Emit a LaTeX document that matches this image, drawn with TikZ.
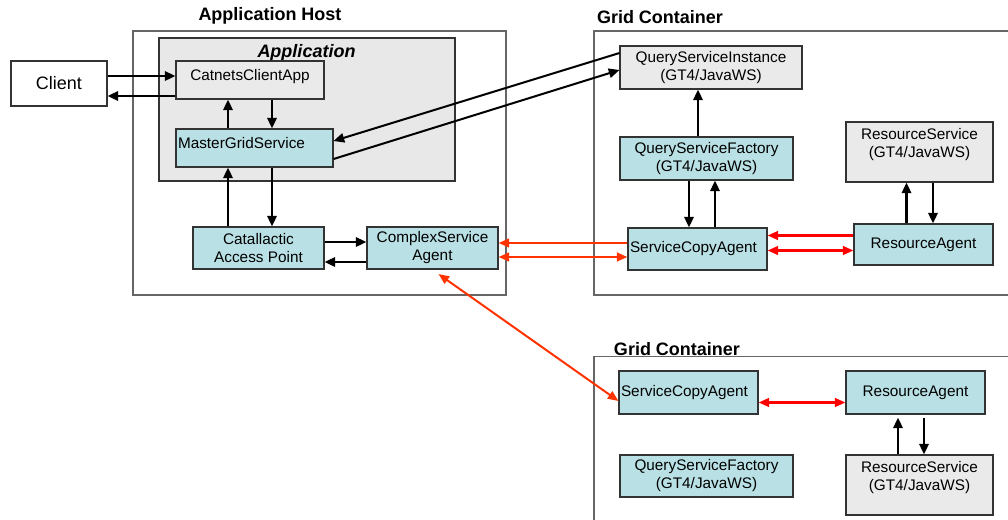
\documentclass[tikz,border=0pt]{standalone}
\usepackage{fontspec}
\setmainfont{Liberation Sans}
\usetikzlibrary{arrows.meta, calc}
\definecolor{boxcyan}{RGB}{185,224,228}
\definecolor{boxgrey}{RGB}{234,234,234}
\definecolor{appgrey}{RGB}{232,232,232}
\definecolor{linkorange}{RGB}{255,51,0}
\definecolor{linkred}{RGB}{255,0,0}

\begin{document}
\begin{tikzpicture}
	[x=0.75pt, y=-0.75pt,
	container/.style={draw=black!60, line width=0.9pt, inner sep=0pt},
	component/.style={draw=black!80, line width=0.8pt, inner sep=1.5pt, align=center, font=\fontsize{11.5}{13.5}\selectfont},
	service/.style={component, fill=boxcyan},
	globus/.style={component, fill=boxgrey},
	title/.style={font=\fontsize{13.5}{16}\selectfont\bfseries},
	call/.style={-{Triangle[length=8pt, width=7pt]}, line width=1.8pt},
	offer/.style={-{Triangle[length=8pt, width=6.5pt]}, line width=1.8pt, draw=linkorange, color=linkorange},
	offers/.style={offer, {Triangle[length=8pt, width=6.5pt]}-{Triangle[length=8pt, width=6.5pt]}},
	bid/.style={offer, draw=linkred, color=linkred},
	bids/.style={offers, draw=linkred, color=linkred}]
	\useasboundingbox (0,0) rectangle (1008,519);
	
	% hosts and containers
	\node[container, minimum width=279.75pt, minimum height=198pt] (host) at (319.5,163) {};
	\node[container, draw=black!80, fill=appgrey, minimum width=222pt, minimum height=107.25pt] (app) at (307,109.5) {};
	\node[container, minimum width=315pt, minimum height=198pt] (gridA) at (804,163) {};
	\node[container, minimum width=315pt, minimum height=200pt] (gridB) at (804,490) {};
	
	\node[title] (hosttitle) at (270,16) {Application Host};
	\node[title, font=\fontsize{13.5}{16}\selectfont\bfseries\itshape] (apptitle) at (306.5,53) {Application};
	\node[title] (gridtitleA) at (660,17) {Grid Container};
	\node[title] (gridtitleB) at (677,349) {Grid Container};
	
	% components
	\node[component, font=\fontsize{13.5}{16}\selectfont, minimum width=72pt, minimum height=33.75pt] (client) at (59,83.5) {Client};
	\node[globus, text depth=8pt, minimum width=111pt, minimum height=28.5pt] (cca) at (250,80) {CatnetsClientApp};
	\node[service, text width=114.75pt, align=left, text depth=8pt, minimum height=28.5pt] (mgs) at (254.5,148) {MasterGridService};
	\node[service, minimum width=98.25pt, minimum height=31.5pt] (cap) at (258.5,248) {Catallactic\\Access Point};
	\node[service, minimum width=98.25pt, minimum height=31.5pt] (csa) at (432.5,248) {ComplexService\\Agent};
	
	\node[globus, minimum width=136.5pt, minimum height=32.25pt] (qsi) at (711,67.5) {QueryServiceInstance\\(GT4/JavaWS)};
	\node[service, minimum width=129.75pt, minimum height=32.25pt] (qsf) at (706.5,158.5) {QueryServiceFactory\\(GT4/JavaWS)};
	\node[globus, text depth=14pt, minimum width=110.25pt, minimum height=45pt] (rs) at (919.5,152) {ResourceService\\(GT4/JavaWS)};
	\node[service, text width=101.25pt, align=left, minimum height=31.5pt] (sca) at (697.5,249) {ServiceCopyAgent};
	\node[service, minimum width=104.25pt, minimum height=30.75pt] (ra) at (923.5,244.5) {ResourceAgent};
	
	\node[service, text width=101.25pt, align=left, minimum height=32.25pt] (scaB) at (688.5,392.5) {ServiceCopyAgent};
	\node[service, minimum width=104.25pt, minimum height=32.25pt] (raB) at (915.5,392.5) {ResourceAgent};
	\node[service, minimum width=129.75pt, minimum height=31.5pt] (qsfB) at (706.5,476) {QueryServiceFactory\\(GT4/JavaWS)};
	\node[globus, text depth=14pt, minimum width=110.25pt, minimum height=45pt] (rsB) at (919.5,485) {ResourceService\\(GT4/JavaWS)};
	
	% application host calls
	\draw[call] ($(client.east)+(0,-7.5)$) -- ($(cca.west)+(0,-4)$);
	\draw[call] ($(cca.west)+(0,16)$) -- ($(client.east)+(0,12.5)$);
	\draw[call] ($(mgs.north)+(-26.5,0)$) -- ($(cca.south)+(-22,0)$);
	\draw[call] ($(cca.south)+(22,0)$) -- ($(mgs.north)+(17.5,0)$);
	\draw[call] ($(cap.north)+(-30.5,0)$) -- ($(mgs.south)+(-26.5,0)$);
	\draw[call] ($(mgs.south)+(17.5,0)$) -- ($(cap.north)+(13.5,0)$);
	\draw[call] ($(cap.east)+(0,-6)$) -- ($(csa.west)+(0,-6)$);
	\draw[call] ($(csa.west)+(0,14)$) -- ($(cap.east)+(0,14)$);
	
	% grid service calls
	\draw[call, line width=1.5pt] ($(qsi.west)+(0,-14.5)$) -- ($(mgs.east)+(0,-7)$);
	\draw[call, line width=1.5pt] ($(mgs.east)+(0,11)$) -- ($(qsi.west)+(0,2.5)$);
	\draw[call] ($(qsf.north)+(-8.5,0)$) -- ($(qsi.south)+(-13,0)$);
	\draw[call] ($(qsf.south)+(-17.5,0)$) -- ($(sca.north)+(-8.5,0)$);
	\draw[call] ($(sca.north)+(17.5,0)$) -- ($(qsf.south)+(8.5,0)$);
	\draw[call] ($(ra.north)+(-17,0)$) -- ($(rs.south)+(-13,0)$);
	\draw[call] ($(rs.south)+(13.5,0)$) -- ($(ra.north)+(9.5,0)$);
	\draw[call] ($(rsB.north)+(-21.5,0)$) -- ($(raB.south)+(-17.5,3)$);
	\draw[call] ($(raB.south)+(8.5,3)$) -- ($(rsB.north)+(4.5,0)$);
	
	% market messages
	\draw[bid] ($(ra.west)+(0,-9)$) -- ($(sca.east)+(0,-13.5)$);
	\draw[bids] ($(sca.east)+(0,1.5)$) -- ($(ra.west)+(0,6)$);
	\draw[offer] ($(sca.west)+(0,-6)$) -- ($(csa.east)+(0,-5)$);
	\draw[offers] ($(csa.east)+(0,9)$) -- ($(sca.west)+(0,8)$);
	\draw[offers, line width=1.5pt] ($(csa.south)+(6,4.5)$) -- ($(scaB.west)+(0,8.5)$);
	\draw[bids] ($(scaB.east)+(0,10)$) -- ($(raB.west)+(0,10)$);
\end{tikzpicture}
\end{document}
